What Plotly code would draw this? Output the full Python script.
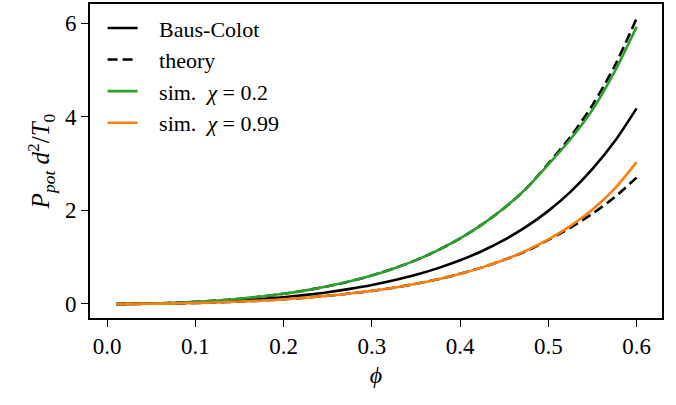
import plotly.graph_objects as go

# packing fraction samples
phi = [0.01, 0.025, 0.05, 0.075, 0.10, 0.125, 0.15, 0.175, 0.20, 0.225, 0.25, 0.275, 0.30,
       0.325, 0.35, 0.375, 0.40, 0.425, 0.45, 0.475, 0.50, 0.525, 0.55, 0.575, 0.60]

# potential pressure P_pot d^2 / T0
baus_colot = [0.0003, 0.0017, 0.007, 0.016, 0.030, 0.049, 0.074, 0.106, 0.145, 0.194, 0.252, 0.322, 0.405,
              0.506, 0.624, 0.766, 0.933, 1.132, 1.368, 1.651, 1.989, 2.396, 2.886, 3.47, 4.18]
theory_low_chi = [0.0005, 0.0025, 0.0105, 0.024, 0.045, 0.074, 0.111, 0.159, 0.218, 0.290, 0.378, 0.483, 0.608,
                  0.760, 0.936, 1.150, 1.400, 1.700, 2.05, 2.47, 3.00, 3.57, 4.25, 5.08, 6.10]
theory_high_chi = [0.0002, 0.0011, 0.0048, 0.011, 0.021, 0.034, 0.051, 0.073, 0.100, 0.134, 0.174, 0.222, 0.279,
                   0.348, 0.431, 0.528, 0.644, 0.782, 0.944, 1.13, 1.37, 1.63, 1.93, 2.28, 2.70]
sim_chi_02 = [0.0005, 0.0025, 0.0105, 0.024, 0.045, 0.074, 0.111, 0.159, 0.218, 0.290, 0.378, 0.483, 0.608,
              0.760, 0.936, 1.150, 1.400, 1.700, 2.05, 2.47, 2.98, 3.52, 4.15, 4.96, 5.92]
sim_chi_099 = [0.0002, 0.0011, 0.0048, 0.011, 0.021, 0.034, 0.051, 0.073, 0.100, 0.134, 0.174, 0.222, 0.279,
               0.348, 0.431, 0.528, 0.644, 0.782, 0.944, 1.14, 1.38, 1.67, 2.02, 2.46, 3.03]

x_ticks = [0.0, 0.1, 0.2, 0.3, 0.4, 0.5, 0.6]
y_ticks = [0, 2, 4, 6]

FONT = "Liberation Serif"
LW = 2.6
DASH = "10px,5px"
PAD = "\u00a0\u00a0\u00a0"  # gap between legend sample and label


def curve(y, name, color, group, dash="solid", show=True):
    return go.Scatter(x=phi, y=y, mode="lines", name=PAD + name, legendgroup=group, showlegend=show,
                      line=dict(color=color, width=LW, dash=dash, shape="spline", smoothing=0.8))


fig = go.Figure()
fig.add_trace(curve(baus_colot, "Baus-Colot", "black", "a"))
fig.add_trace(curve(theory_low_chi, "theory", "black", "b", dash=DASH))
fig.add_trace(curve(theory_high_chi, "theory", "black", "b", dash=DASH, show=False))
fig.add_trace(curve(sim_chi_02, "sim.  <i>χ</i> = 0.2", "#2ca02c", "c"))
fig.add_trace(curve(sim_chi_099, "sim.  <i>χ</i> = 0.99", "#ff7f0e", "d"))

axis_common = dict(
    showgrid=False, zeroline=False, showline=True, linecolor="black", linewidth=1.6,
    mirror=True, ticks="outside", ticklen=7, tickwidth=1.4, tickcolor="black",
    tickfont=dict(family=FONT, size=23, color="black"),
)

fig.update_xaxes(range=[-0.0195, 0.6288], tickvals=x_ticks,
                 ticktext=[f"{v:.1f}" for v in x_ticks],
                 title=dict(text="<i>ϕ</i>", font=dict(family=FONT, size=24, color="black"), standoff=8),
                 **axis_common)
fig.update_yaxes(range=[-0.30, 6.41], tickvals=y_ticks,
                 ticktext=[str(v) for v in y_ticks],
                 title=dict(text="<i>P<sub>pot</sub> d</i><sup>2</sup>/<i>T</i><sub>0</sub>",
                            font=dict(family=FONT, size=25, color="black"), standoff=8),
                 **axis_common)

fig.update_layout(
    width=676, height=405,
    margin=dict(l=90, r=14, t=2, b=87),
    paper_bgcolor="white", plot_bgcolor="white",
    font=dict(family=FONT, color="black"),
    legend=dict(x=0.022, y=0.99, xanchor="left", yanchor="top",
                bgcolor="rgba(0,0,0,0)", borderwidth=0,
                font=dict(family=FONT, size=22, color="black"),
                tracegroupgap=8, traceorder="normal"),
)

fig.write_html("out.html")
